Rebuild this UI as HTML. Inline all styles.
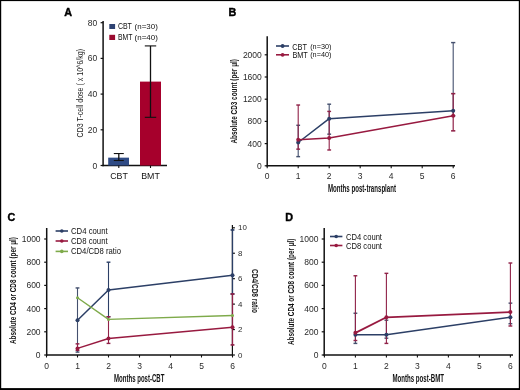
<!DOCTYPE html>
<html><head><meta charset="utf-8"><style>
html,body{margin:0;padding:0;background:#fff;}
body{width:520px;height:390px;overflow:hidden;}
svg{display:block;font-family:"Liberation Sans", sans-serif;will-change:transform;}
</style></head><body>
<svg width="520" height="390" viewBox="0 0 520 390">
<rect x="0" y="0" width="520" height="390" fill="#fff"/>
<rect x="0" y="0" width="520" height="1.1" fill="#000"/><rect x="0" y="0" width="1.2" height="390" fill="#000"/><rect x="518.8" y="0" width="1.2" height="390" fill="#000"/><rect x="0" y="388.1" width="520" height="1.9" fill="#000"/>
<text x="64.20" y="16.00" font-size="10.8" text-anchor="start" font-weight="bold" fill="#000" stroke="#000" stroke-width="0.4">A</text>
<line x1="103.10" y1="21.00" x2="103.10" y2="166.20" stroke="#111" stroke-width="1.5"/>
<line x1="102.40" y1="165.50" x2="167.00" y2="165.50" stroke="#111" stroke-width="1.5"/>
<line x1="100.60" y1="165.50" x2="103.10" y2="165.50" stroke="#111" stroke-width="1.2"/>
<text x="97.30" y="168.55" font-size="8.5" text-anchor="end" font-weight="normal" fill="#2a2a2a">0</text>
<line x1="100.60" y1="129.80" x2="103.10" y2="129.80" stroke="#111" stroke-width="1.2"/>
<text x="97.30" y="132.85" font-size="8.5" text-anchor="end" font-weight="normal" fill="#2a2a2a">20</text>
<line x1="100.60" y1="94.10" x2="103.10" y2="94.10" stroke="#111" stroke-width="1.2"/>
<text x="97.30" y="97.15" font-size="8.5" text-anchor="end" font-weight="normal" fill="#2a2a2a">40</text>
<line x1="100.60" y1="58.40" x2="103.10" y2="58.40" stroke="#111" stroke-width="1.2"/>
<text x="97.30" y="61.45" font-size="8.5" text-anchor="end" font-weight="normal" fill="#2a2a2a">60</text>
<line x1="100.60" y1="22.70" x2="103.10" y2="22.70" stroke="#111" stroke-width="1.2"/>
<text x="97.30" y="25.75" font-size="8.5" text-anchor="end" font-weight="normal" fill="#2a2a2a">80</text>
<rect x="108.2" y="157.65" width="20.8" height="7.85" fill="#2f4b85"/>
<rect x="140" y="81.61" width="21" height="83.89" fill="#a6002c"/>
<line x1="118.80" y1="153.54" x2="118.80" y2="160.50" stroke="#111" stroke-width="1.3"/>
<line x1="113.80" y1="153.54" x2="123.80" y2="153.54" stroke="#111" stroke-width="1.1"/>
<line x1="113.80" y1="160.50" x2="123.80" y2="160.50" stroke="#111" stroke-width="1.1"/>
<line x1="150.50" y1="45.91" x2="150.50" y2="117.31" stroke="#111" stroke-width="1.3"/>
<line x1="144.80" y1="45.91" x2="156.20" y2="45.91" stroke="#111" stroke-width="1.1"/>
<line x1="144.80" y1="117.31" x2="156.20" y2="117.31" stroke="#111" stroke-width="1.1"/>
<line x1="118.80" y1="165.50" x2="118.80" y2="168.00" stroke="#111" stroke-width="1.1"/>
<line x1="150.50" y1="165.50" x2="150.50" y2="168.00" stroke="#111" stroke-width="1.1"/>
<text x="119.00" y="179.20" font-size="8.8" text-anchor="middle" font-weight="normal" fill="#111">CBT</text>
<text x="150.50" y="179.20" font-size="8.8" text-anchor="middle" font-weight="normal" fill="#111">BMT</text>
<rect x="109.3" y="24" width="5.8" height="5" fill="#2e4272"/>
<rect x="109.3" y="34.8" width="5.8" height="5.2" fill="#9a0a30"/>
<text x="117.90" y="29.20" font-size="8.4" text-anchor="start" font-weight="normal" fill="#111" textLength="14" lengthAdjust="spacingAndGlyphs">CBT</text>
<text x="134.60" y="29.00" font-size="7.4" text-anchor="start" font-weight="normal" fill="#111" textLength="23.2" lengthAdjust="spacingAndGlyphs">(n=30)</text>
<text x="117.90" y="40.20" font-size="8.4" text-anchor="start" font-weight="normal" fill="#111" textLength="14.5" lengthAdjust="spacingAndGlyphs">BMT</text>
<text x="134.60" y="40.00" font-size="7.4" text-anchor="start" font-weight="normal" fill="#111" textLength="23.2" lengthAdjust="spacingAndGlyphs">(n=40)</text>
<text x="0" y="0" transform="translate(79.2,93.2) rotate(-90)" font-size="9.6" font-weight="normal" text-anchor="middle" dominant-baseline="central" fill="#222" textLength="88.5" lengthAdjust="spacingAndGlyphs">CD3 T-cell dose ( x 10^6/kg)</text>
<text x="228.60" y="16.00" font-size="10.8" text-anchor="start" font-weight="bold" fill="#000" stroke="#000" stroke-width="0.4">B</text>
<line x1="267.20" y1="36.20" x2="267.20" y2="166.50" stroke="#111" stroke-width="1.5"/>
<line x1="266.50" y1="165.80" x2="455.00" y2="165.80" stroke="#111" stroke-width="1.5"/>
<line x1="264.70" y1="165.80" x2="267.20" y2="165.80" stroke="#111" stroke-width="1.2"/>
<text x="261.80" y="168.85" font-size="8.5" text-anchor="end" font-weight="normal" fill="#2a2a2a">0</text>
<line x1="264.70" y1="143.60" x2="267.20" y2="143.60" stroke="#111" stroke-width="1.2"/>
<text x="261.80" y="146.65" font-size="8.5" text-anchor="end" font-weight="normal" fill="#2a2a2a">400</text>
<line x1="264.70" y1="121.40" x2="267.20" y2="121.40" stroke="#111" stroke-width="1.2"/>
<text x="261.80" y="124.45" font-size="8.5" text-anchor="end" font-weight="normal" fill="#2a2a2a">800</text>
<line x1="264.70" y1="99.20" x2="267.20" y2="99.20" stroke="#111" stroke-width="1.2"/>
<text x="261.80" y="102.25" font-size="8.5" text-anchor="end" font-weight="normal" fill="#2a2a2a">1200</text>
<line x1="264.70" y1="77.00" x2="267.20" y2="77.00" stroke="#111" stroke-width="1.2"/>
<text x="261.80" y="80.05" font-size="8.5" text-anchor="end" font-weight="normal" fill="#2a2a2a">1600</text>
<line x1="264.70" y1="54.80" x2="267.20" y2="54.80" stroke="#111" stroke-width="1.2"/>
<text x="261.80" y="57.85" font-size="8.5" text-anchor="end" font-weight="normal" fill="#2a2a2a">2000</text>
<line x1="267.20" y1="165.80" x2="267.20" y2="168.30" stroke="#111" stroke-width="1.1"/>
<text x="267.20" y="179.20" font-size="8.5" text-anchor="middle" font-weight="normal" fill="#2a2a2a">0</text>
<line x1="298.20" y1="165.80" x2="298.20" y2="168.30" stroke="#111" stroke-width="1.1"/>
<text x="298.20" y="179.20" font-size="8.5" text-anchor="middle" font-weight="normal" fill="#2a2a2a">1</text>
<line x1="329.20" y1="165.80" x2="329.20" y2="168.30" stroke="#111" stroke-width="1.1"/>
<text x="329.20" y="179.20" font-size="8.5" text-anchor="middle" font-weight="normal" fill="#2a2a2a">2</text>
<line x1="360.20" y1="165.80" x2="360.20" y2="168.30" stroke="#111" stroke-width="1.1"/>
<text x="360.20" y="179.20" font-size="8.5" text-anchor="middle" font-weight="normal" fill="#2a2a2a">3</text>
<line x1="391.20" y1="165.80" x2="391.20" y2="168.30" stroke="#111" stroke-width="1.1"/>
<text x="391.20" y="179.20" font-size="8.5" text-anchor="middle" font-weight="normal" fill="#2a2a2a">4</text>
<line x1="422.20" y1="165.80" x2="422.20" y2="168.30" stroke="#111" stroke-width="1.1"/>
<text x="422.20" y="179.20" font-size="8.5" text-anchor="middle" font-weight="normal" fill="#2a2a2a">5</text>
<line x1="453.20" y1="165.80" x2="453.20" y2="168.30" stroke="#111" stroke-width="1.1"/>
<text x="453.20" y="179.20" font-size="8.5" text-anchor="middle" font-weight="normal" fill="#2a2a2a">6</text>
<text x="328.00" y="191.80" font-size="10.0" text-anchor="start" font-weight="bold" fill="#111" textLength="68" lengthAdjust="spacingAndGlyphs">Months post-transplant</text>
<text x="0" y="0" transform="translate(233.4,101.3) rotate(-90)" font-size="9.4" font-weight="bold" text-anchor="middle" dominant-baseline="central" fill="#111" textLength="84.5" lengthAdjust="spacingAndGlyphs">Absolute CD3 count (per μl)</text>
<line x1="298.20" y1="125.29" x2="298.20" y2="156.64" stroke="#44506e" stroke-width="1.1"/>
<line x1="296.30" y1="125.29" x2="300.10" y2="125.29" stroke="#44506e" stroke-width="1.4300000000000002"/>
<line x1="296.30" y1="156.64" x2="300.10" y2="156.64" stroke="#44506e" stroke-width="1.4300000000000002"/>
<line x1="329.20" y1="104.20" x2="329.20" y2="134.17" stroke="#44506e" stroke-width="1.1"/>
<line x1="327.30" y1="104.20" x2="331.10" y2="104.20" stroke="#44506e" stroke-width="1.4300000000000002"/>
<line x1="327.30" y1="134.17" x2="331.10" y2="134.17" stroke="#44506e" stroke-width="1.4300000000000002"/>
<line x1="453.20" y1="42.59" x2="453.20" y2="115.85" stroke="#44506e" stroke-width="1.1"/>
<line x1="451.10" y1="42.59" x2="455.30" y2="42.59" stroke="#44506e" stroke-width="1.4300000000000002"/>
<line x1="451.10" y1="115.85" x2="455.30" y2="115.85" stroke="#44506e" stroke-width="1.4300000000000002"/>
<line x1="298.20" y1="105.03" x2="298.20" y2="149.15" stroke="#902248" stroke-width="1.1"/>
<line x1="296.30" y1="105.03" x2="300.10" y2="105.03" stroke="#902248" stroke-width="1.4300000000000002"/>
<line x1="296.30" y1="149.15" x2="300.10" y2="149.15" stroke="#902248" stroke-width="1.4300000000000002"/>
<line x1="329.20" y1="111.41" x2="329.20" y2="149.98" stroke="#902248" stroke-width="1.1"/>
<line x1="327.30" y1="111.41" x2="331.10" y2="111.41" stroke="#902248" stroke-width="1.4300000000000002"/>
<line x1="327.30" y1="149.98" x2="331.10" y2="149.98" stroke="#902248" stroke-width="1.4300000000000002"/>
<line x1="453.20" y1="93.65" x2="453.20" y2="130.84" stroke="#902248" stroke-width="1.2"/>
<line x1="451.10" y1="93.65" x2="455.30" y2="93.65" stroke="#902248" stroke-width="1.56"/>
<line x1="451.10" y1="130.84" x2="455.30" y2="130.84" stroke="#902248" stroke-width="1.56"/>
<polyline points="298.20,142.49 329.20,118.63 453.20,110.86" fill="none" stroke="#2c3f66" stroke-width="1.5" stroke-linejoin="round"/>
<polyline points="298.20,139.72 329.20,138.05 453.20,115.85" fill="none" stroke="#981a40" stroke-width="1.5" stroke-linejoin="round"/>
<circle cx="298.20" cy="142.49" r="2.0" fill="#2c3f66"/>
<circle cx="329.20" cy="118.63" r="2.0" fill="#2c3f66"/>
<circle cx="453.20" cy="110.86" r="2.0" fill="#2c3f66"/>
<circle cx="298.20" cy="139.72" r="2.0" fill="#981a40"/>
<circle cx="329.20" cy="138.05" r="2.0" fill="#981a40"/>
<circle cx="453.20" cy="115.85" r="2.0" fill="#981a40"/>
<line x1="276.00" y1="46.00" x2="289.00" y2="46.00" stroke="#2c3f66" stroke-width="1.6"/>
<circle cx="282.60" cy="46.00" r="1.9" fill="#2c3f66"/>
<line x1="276.00" y1="54.80" x2="289.00" y2="54.80" stroke="#981a40" stroke-width="1.6"/>
<circle cx="282.60" cy="54.80" r="1.9" fill="#981a40"/>
<text x="292.20" y="49.50" font-size="8.4" text-anchor="start" font-weight="normal" fill="#111" textLength="14.7" lengthAdjust="spacingAndGlyphs">CBT</text>
<text x="310.20" y="48.80" font-size="7.6" text-anchor="start" font-weight="normal" fill="#111" textLength="21.2" lengthAdjust="spacingAndGlyphs">(n=30)</text>
<text x="292.40" y="57.90" font-size="8.4" text-anchor="start" font-weight="normal" fill="#111" textLength="15.4" lengthAdjust="spacingAndGlyphs">BMT</text>
<text x="310.20" y="57.20" font-size="7.6" text-anchor="start" font-weight="normal" fill="#111" textLength="21.2" lengthAdjust="spacingAndGlyphs">(n=40)</text>
<text x="7.60" y="221.20" font-size="10.8" text-anchor="start" font-weight="bold" fill="#000" stroke="#000" stroke-width="0.4">C</text>
<line x1="46.70" y1="228.00" x2="46.70" y2="355.70" stroke="#111" stroke-width="1.5"/>
<line x1="46.00" y1="355.00" x2="233.00" y2="355.00" stroke="#111" stroke-width="1.5"/>
<line x1="44.20" y1="355.00" x2="46.70" y2="355.00" stroke="#111" stroke-width="1.2"/>
<text x="40.60" y="358.05" font-size="8.5" text-anchor="end" font-weight="normal" fill="#2a2a2a">0</text>
<line x1="44.20" y1="331.80" x2="46.70" y2="331.80" stroke="#111" stroke-width="1.2"/>
<text x="40.60" y="334.85" font-size="8.5" text-anchor="end" font-weight="normal" fill="#2a2a2a">200</text>
<line x1="44.20" y1="308.60" x2="46.70" y2="308.60" stroke="#111" stroke-width="1.2"/>
<text x="40.60" y="311.65" font-size="8.5" text-anchor="end" font-weight="normal" fill="#2a2a2a">400</text>
<line x1="44.20" y1="285.40" x2="46.70" y2="285.40" stroke="#111" stroke-width="1.2"/>
<text x="40.60" y="288.45" font-size="8.5" text-anchor="end" font-weight="normal" fill="#2a2a2a">600</text>
<line x1="44.20" y1="262.20" x2="46.70" y2="262.20" stroke="#111" stroke-width="1.2"/>
<text x="40.60" y="265.25" font-size="8.5" text-anchor="end" font-weight="normal" fill="#2a2a2a">800</text>
<line x1="44.20" y1="239.00" x2="46.70" y2="239.00" stroke="#111" stroke-width="1.2"/>
<text x="40.60" y="242.05" font-size="8.5" text-anchor="end" font-weight="normal" fill="#2a2a2a">1000</text>
<line x1="232.40" y1="355.00" x2="234.90" y2="355.00" stroke="#111" stroke-width="1.2"/>
<text x="238.00" y="357.60" font-size="7.9" text-anchor="start" font-weight="normal" fill="#2a2a2a">0</text>
<line x1="232.40" y1="329.56" x2="234.90" y2="329.56" stroke="#111" stroke-width="1.2"/>
<text x="238.00" y="332.16" font-size="7.9" text-anchor="start" font-weight="normal" fill="#2a2a2a">2</text>
<line x1="232.40" y1="304.12" x2="234.90" y2="304.12" stroke="#111" stroke-width="1.2"/>
<text x="238.00" y="306.72" font-size="7.9" text-anchor="start" font-weight="normal" fill="#2a2a2a">4</text>
<line x1="232.40" y1="278.68" x2="234.90" y2="278.68" stroke="#111" stroke-width="1.2"/>
<text x="238.00" y="281.28" font-size="7.9" text-anchor="start" font-weight="normal" fill="#2a2a2a">6</text>
<line x1="232.40" y1="253.24" x2="234.90" y2="253.24" stroke="#111" stroke-width="1.2"/>
<text x="238.00" y="255.84" font-size="7.9" text-anchor="start" font-weight="normal" fill="#2a2a2a">8</text>
<line x1="232.40" y1="227.80" x2="234.90" y2="227.80" stroke="#111" stroke-width="1.2"/>
<text x="238.00" y="230.40" font-size="7.9" text-anchor="start" font-weight="normal" fill="#2a2a2a">10</text>
<line x1="46.50" y1="355.00" x2="46.50" y2="357.50" stroke="#111" stroke-width="1.1"/>
<text x="46.50" y="368.60" font-size="8.5" text-anchor="middle" font-weight="normal" fill="#2a2a2a">0</text>
<line x1="77.50" y1="355.00" x2="77.50" y2="357.50" stroke="#111" stroke-width="1.1"/>
<text x="77.50" y="368.60" font-size="8.5" text-anchor="middle" font-weight="normal" fill="#2a2a2a">1</text>
<line x1="108.50" y1="355.00" x2="108.50" y2="357.50" stroke="#111" stroke-width="1.1"/>
<text x="108.50" y="368.60" font-size="8.5" text-anchor="middle" font-weight="normal" fill="#2a2a2a">2</text>
<line x1="139.50" y1="355.00" x2="139.50" y2="357.50" stroke="#111" stroke-width="1.1"/>
<text x="139.50" y="368.60" font-size="8.5" text-anchor="middle" font-weight="normal" fill="#2a2a2a">3</text>
<line x1="170.50" y1="355.00" x2="170.50" y2="357.50" stroke="#111" stroke-width="1.1"/>
<text x="170.50" y="368.60" font-size="8.5" text-anchor="middle" font-weight="normal" fill="#2a2a2a">4</text>
<line x1="201.50" y1="355.00" x2="201.50" y2="357.50" stroke="#111" stroke-width="1.1"/>
<text x="201.50" y="368.60" font-size="8.5" text-anchor="middle" font-weight="normal" fill="#2a2a2a">5</text>
<line x1="232.50" y1="355.00" x2="232.50" y2="357.50" stroke="#111" stroke-width="1.1"/>
<text x="232.50" y="368.60" font-size="8.5" text-anchor="middle" font-weight="normal" fill="#2a2a2a">6</text>
<text x="114.00" y="381.80" font-size="10.0" text-anchor="start" font-weight="bold" fill="#111" textLength="50.4" lengthAdjust="spacingAndGlyphs">Months post-CBT</text>
<text x="0" y="0" transform="translate(12.8,290.5) rotate(-90)" font-size="9.4" font-weight="bold" text-anchor="middle" dominant-baseline="central" fill="#111" textLength="107" lengthAdjust="spacingAndGlyphs">Absolute CD4 or CD8 count (per μl)</text>
<text x="0" y="0" transform="translate(255.8,291) rotate(90)" font-size="9.6" font-weight="bold" text-anchor="middle" dominant-baseline="central" fill="#222" textLength="44" lengthAdjust="spacingAndGlyphs">CD4/CD8 ratio</text>
<line x1="232.40" y1="225.00" x2="232.40" y2="355.00" stroke="#111" stroke-width="1.2"/>
<line x1="77.50" y1="287.95" x2="77.50" y2="352.10" stroke="#44506e" stroke-width="1.1"/>
<line x1="75.60" y1="287.95" x2="79.40" y2="287.95" stroke="#44506e" stroke-width="1.4300000000000002"/>
<line x1="75.60" y1="352.10" x2="79.40" y2="352.10" stroke="#44506e" stroke-width="1.4300000000000002"/>
<line x1="77.50" y1="343.86" x2="77.50" y2="350.36" stroke="#902248" stroke-width="1.1"/>
<line x1="75.60" y1="343.86" x2="79.40" y2="343.86" stroke="#902248" stroke-width="1.4300000000000002"/>
<line x1="75.60" y1="350.36" x2="79.40" y2="350.36" stroke="#902248" stroke-width="1.4300000000000002"/>
<line x1="108.50" y1="262.20" x2="108.50" y2="316.72" stroke="#2c3f66" stroke-width="1.1"/>
<line x1="106.60" y1="262.20" x2="110.40" y2="262.20" stroke="#2c3f66" stroke-width="1.4300000000000002"/>
<line x1="106.60" y1="316.72" x2="110.40" y2="316.72" stroke="#2c3f66" stroke-width="1.4300000000000002"/>
<line x1="108.50" y1="316.72" x2="108.50" y2="343.40" stroke="#902248" stroke-width="1.1"/>
<line x1="106.60" y1="316.72" x2="110.40" y2="316.72" stroke="#902248" stroke-width="1.4300000000000002"/>
<line x1="106.60" y1="343.40" x2="110.40" y2="343.40" stroke="#902248" stroke-width="1.4300000000000002"/>
<line x1="232.50" y1="229.95" x2="232.50" y2="293.98" stroke="#2c3f66" stroke-width="1.3"/>
<line x1="230.60" y1="229.95" x2="234.40" y2="229.95" stroke="#2c3f66" stroke-width="1.6900000000000002"/>
<line x1="230.60" y1="293.98" x2="234.40" y2="293.98" stroke="#2c3f66" stroke-width="1.6900000000000002"/>
<line x1="232.50" y1="293.98" x2="232.50" y2="344.91" stroke="#902248" stroke-width="1.3"/>
<line x1="230.60" y1="293.98" x2="234.40" y2="293.98" stroke="#902248" stroke-width="1.6900000000000002"/>
<line x1="230.60" y1="344.91" x2="234.40" y2="344.91" stroke="#902248" stroke-width="1.6900000000000002"/>
<polyline points="77.50,320.20 108.50,289.92 232.50,275.31" fill="none" stroke="#2c3f66" stroke-width="1.5" stroke-linejoin="round"/>
<polyline points="77.50,348.39 108.50,338.53 232.50,327.16" fill="none" stroke="#981a40" stroke-width="1.5" stroke-linejoin="round"/>
<polyline points="77.50,297.76 108.50,319.38 232.50,315.57" fill="none" stroke="#7eaa4a" stroke-width="1.4" stroke-linejoin="round"/>
<circle cx="77.50" cy="320.20" r="2.0" fill="#2c3f66"/>
<circle cx="108.50" cy="289.92" r="2.0" fill="#2c3f66"/>
<circle cx="232.50" cy="275.31" r="2.0" fill="#2c3f66"/>
<circle cx="77.50" cy="348.39" r="2.0" fill="#981a40"/>
<circle cx="108.50" cy="338.53" r="2.0" fill="#981a40"/>
<circle cx="232.50" cy="327.16" r="2.0" fill="#981a40"/>
<circle cx="77.50" cy="297.76" r="1.5" fill="#7eaa4a"/>
<circle cx="108.50" cy="319.38" r="1.5" fill="#7eaa4a"/>
<circle cx="232.50" cy="315.57" r="1.5" fill="#7eaa4a"/>
<line x1="55.60" y1="231.00" x2="68.00" y2="231.00" stroke="#2c3f66" stroke-width="1.6"/>
<circle cx="61.80" cy="231.00" r="1.8" fill="#2c3f66"/>
<line x1="55.60" y1="241.00" x2="68.00" y2="241.00" stroke="#981a40" stroke-width="1.6"/>
<circle cx="61.80" cy="241.00" r="1.8" fill="#981a40"/>
<line x1="55.60" y1="251.40" x2="68.00" y2="251.40" stroke="#7eaa4a" stroke-width="1.6"/>
<circle cx="61.80" cy="251.40" r="1.8" fill="#7eaa4a"/>
<text x="71.00" y="234.00" font-size="8.4" text-anchor="start" font-weight="normal" fill="#111" textLength="36.6" lengthAdjust="spacingAndGlyphs">CD4 count</text>
<text x="71.00" y="244.00" font-size="8.4" text-anchor="start" font-weight="normal" fill="#111" textLength="36.6" lengthAdjust="spacingAndGlyphs">CD8 count</text>
<text x="71.00" y="254.40" font-size="8.4" text-anchor="start" font-weight="normal" fill="#111" textLength="50" lengthAdjust="spacingAndGlyphs">CD4/CD8 ratio</text>
<text x="285.20" y="221.20" font-size="10.8" text-anchor="start" font-weight="bold" fill="#000" stroke="#000" stroke-width="0.4">D</text>
<line x1="324.20" y1="228.00" x2="324.20" y2="355.70" stroke="#111" stroke-width="1.5"/>
<line x1="323.50" y1="355.00" x2="513.00" y2="355.00" stroke="#111" stroke-width="1.5"/>
<line x1="321.70" y1="355.00" x2="324.20" y2="355.00" stroke="#111" stroke-width="1.2"/>
<text x="318.40" y="358.05" font-size="8.5" text-anchor="end" font-weight="normal" fill="#2a2a2a">0</text>
<line x1="321.70" y1="331.80" x2="324.20" y2="331.80" stroke="#111" stroke-width="1.2"/>
<text x="318.40" y="334.85" font-size="8.5" text-anchor="end" font-weight="normal" fill="#2a2a2a">200</text>
<line x1="321.70" y1="308.60" x2="324.20" y2="308.60" stroke="#111" stroke-width="1.2"/>
<text x="318.40" y="311.65" font-size="8.5" text-anchor="end" font-weight="normal" fill="#2a2a2a">400</text>
<line x1="321.70" y1="285.40" x2="324.20" y2="285.40" stroke="#111" stroke-width="1.2"/>
<text x="318.40" y="288.45" font-size="8.5" text-anchor="end" font-weight="normal" fill="#2a2a2a">600</text>
<line x1="321.70" y1="262.20" x2="324.20" y2="262.20" stroke="#111" stroke-width="1.2"/>
<text x="318.40" y="265.25" font-size="8.5" text-anchor="end" font-weight="normal" fill="#2a2a2a">800</text>
<line x1="321.70" y1="239.00" x2="324.20" y2="239.00" stroke="#111" stroke-width="1.2"/>
<text x="318.40" y="242.05" font-size="8.5" text-anchor="end" font-weight="normal" fill="#2a2a2a">1000</text>
<line x1="324.40" y1="355.00" x2="324.40" y2="357.50" stroke="#111" stroke-width="1.1"/>
<text x="324.40" y="368.60" font-size="8.5" text-anchor="middle" font-weight="normal" fill="#2a2a2a">0</text>
<line x1="355.40" y1="355.00" x2="355.40" y2="357.50" stroke="#111" stroke-width="1.1"/>
<text x="355.40" y="368.60" font-size="8.5" text-anchor="middle" font-weight="normal" fill="#2a2a2a">1</text>
<line x1="386.40" y1="355.00" x2="386.40" y2="357.50" stroke="#111" stroke-width="1.1"/>
<text x="386.40" y="368.60" font-size="8.5" text-anchor="middle" font-weight="normal" fill="#2a2a2a">2</text>
<line x1="417.40" y1="355.00" x2="417.40" y2="357.50" stroke="#111" stroke-width="1.1"/>
<text x="417.40" y="368.60" font-size="8.5" text-anchor="middle" font-weight="normal" fill="#2a2a2a">3</text>
<line x1="448.40" y1="355.00" x2="448.40" y2="357.50" stroke="#111" stroke-width="1.1"/>
<text x="448.40" y="368.60" font-size="8.5" text-anchor="middle" font-weight="normal" fill="#2a2a2a">4</text>
<line x1="479.40" y1="355.00" x2="479.40" y2="357.50" stroke="#111" stroke-width="1.1"/>
<text x="479.40" y="368.60" font-size="8.5" text-anchor="middle" font-weight="normal" fill="#2a2a2a">5</text>
<line x1="510.40" y1="355.00" x2="510.40" y2="357.50" stroke="#111" stroke-width="1.1"/>
<text x="510.40" y="368.60" font-size="8.5" text-anchor="middle" font-weight="normal" fill="#2a2a2a">6</text>
<text x="392.40" y="381.80" font-size="10.0" text-anchor="start" font-weight="bold" fill="#111" textLength="51.6" lengthAdjust="spacingAndGlyphs">Months post-BMT</text>
<text x="0" y="0" transform="translate(290.3,291.8) rotate(-90)" font-size="9.4" font-weight="bold" text-anchor="middle" dominant-baseline="central" fill="#111" textLength="106.5" lengthAdjust="spacingAndGlyphs">Absolute CD4 or CD8 count (per μl)</text>
<line x1="355.40" y1="313.24" x2="355.40" y2="343.40" stroke="#44506e" stroke-width="1.1"/>
<line x1="353.50" y1="313.24" x2="357.30" y2="313.24" stroke="#44506e" stroke-width="1.4300000000000002"/>
<line x1="353.50" y1="343.40" x2="357.30" y2="343.40" stroke="#44506e" stroke-width="1.4300000000000002"/>
<line x1="386.40" y1="320.20" x2="386.40" y2="338.18" stroke="#44506e" stroke-width="1.1"/>
<line x1="384.50" y1="320.20" x2="388.30" y2="320.20" stroke="#44506e" stroke-width="1.4300000000000002"/>
<line x1="384.50" y1="338.18" x2="388.30" y2="338.18" stroke="#44506e" stroke-width="1.4300000000000002"/>
<line x1="510.40" y1="303.15" x2="510.40" y2="323.68" stroke="#44506e" stroke-width="1.1"/>
<line x1="508.50" y1="303.15" x2="512.30" y2="303.15" stroke="#44506e" stroke-width="1.4300000000000002"/>
<line x1="508.50" y1="323.68" x2="512.30" y2="323.68" stroke="#44506e" stroke-width="1.4300000000000002"/>
<line x1="355.40" y1="275.77" x2="355.40" y2="340.50" stroke="#902248" stroke-width="1.1"/>
<line x1="353.50" y1="275.77" x2="357.30" y2="275.77" stroke="#902248" stroke-width="1.4300000000000002"/>
<line x1="353.50" y1="340.50" x2="357.30" y2="340.50" stroke="#902248" stroke-width="1.4300000000000002"/>
<line x1="386.40" y1="273.34" x2="386.40" y2="343.40" stroke="#902248" stroke-width="1.1"/>
<line x1="384.50" y1="273.34" x2="388.30" y2="273.34" stroke="#902248" stroke-width="1.4300000000000002"/>
<line x1="384.50" y1="343.40" x2="388.30" y2="343.40" stroke="#902248" stroke-width="1.4300000000000002"/>
<line x1="510.40" y1="263.01" x2="510.40" y2="326.00" stroke="#902248" stroke-width="1.1"/>
<line x1="508.50" y1="263.01" x2="512.30" y2="263.01" stroke="#902248" stroke-width="1.4300000000000002"/>
<line x1="508.50" y1="326.00" x2="512.30" y2="326.00" stroke="#902248" stroke-width="1.4300000000000002"/>
<polyline points="355.40,334.82 386.40,334.82 510.40,317.30" fill="none" stroke="#2c3f66" stroke-width="1.5" stroke-linejoin="round"/>
<polyline points="355.40,332.84 386.40,317.30 510.40,312.08" fill="none" stroke="#981a40" stroke-width="1.8" stroke-linejoin="round"/>
<circle cx="355.40" cy="334.82" r="2.0" fill="#2c3f66"/>
<circle cx="386.40" cy="334.82" r="2.0" fill="#2c3f66"/>
<circle cx="510.40" cy="317.30" r="2.0" fill="#2c3f66"/>
<circle cx="355.40" cy="332.84" r="2.0" fill="#981a40"/>
<circle cx="386.40" cy="317.30" r="2.0" fill="#981a40"/>
<circle cx="510.40" cy="312.08" r="2.0" fill="#981a40"/>
<line x1="330.00" y1="236.50" x2="342.40" y2="236.50" stroke="#2c3f66" stroke-width="1.6"/>
<circle cx="336.20" cy="236.50" r="1.8" fill="#2c3f66"/>
<line x1="330.00" y1="245.50" x2="342.40" y2="245.50" stroke="#981a40" stroke-width="1.6"/>
<circle cx="336.20" cy="245.50" r="1.8" fill="#981a40"/>
<text x="346.00" y="239.60" font-size="8.4" text-anchor="start" font-weight="normal" fill="#111" textLength="36" lengthAdjust="spacingAndGlyphs">CD4 count</text>
<text x="346.00" y="248.60" font-size="8.4" text-anchor="start" font-weight="normal" fill="#111" textLength="36" lengthAdjust="spacingAndGlyphs">CD8 count</text>
</svg>
</body></html>
